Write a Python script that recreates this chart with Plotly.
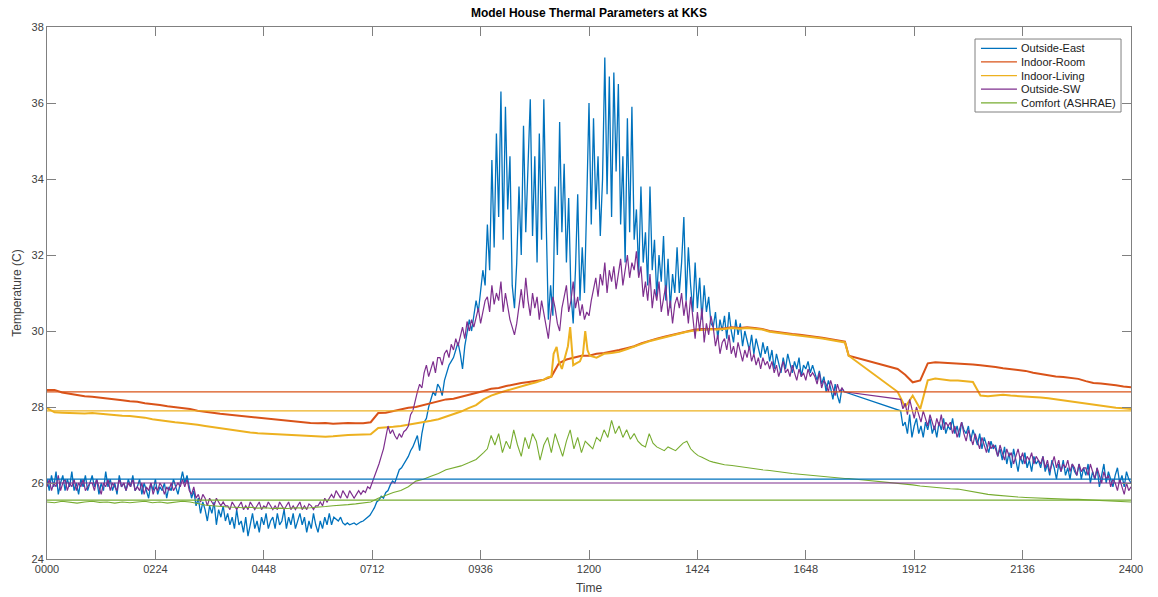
import plotly.graph_objects as go

# ---------------- data ----------------
# time in minutes after midnight (logger gap between ~17:40 and ~18:54)
t_out = list(range(0, 1062, 3)) + list(range(1134, 1441, 3))
t_room = list(range(0, 1061, 10)) + [1065] + list(range(1130, 1441, 10))
t_living = (list(range(0, 661, 10))
            + [665, 670, 673, 677, 680, 684, 688, 692, 695, 699, 703, 708, 712, 715, 718, 721]
            + list(range(730, 1061, 10)) + [1065] + list(range(1130, 1441, 10)))
t_comfort = (list(range(0, 581, 10)) + list(range(585, 901, 5))
             + list(range(910, 1061, 10)) + [1065] + list(range(1130, 1441, 10)))

tick_vals = [0, 144, 288, 432, 576, 720, 864, 1008, 1152, 1296, 1440]
tick_text = ["0000", "0224", "0448", "0712", "0936", "1200", "1424", "1648", "1912", "2136", "2400"]

outside_east = [
    26.1, 25.8, 26.2, 25.9, 26.3, 25.7, 26.0, 26.2, 25.8, 26.1, 25.9, 26.3, 25.8, 26.0, 25.7, 26.1, 25.9, 26.2, 25.8, 26.0,
    26.2, 25.9, 26.1, 25.7, 26.0, 25.8, 26.3, 25.9, 26.1, 25.8, 26.0, 25.7, 26.2, 25.9, 26.0, 25.8, 26.1, 25.9, 26.2, 25.8,
    25.9, 26.1, 25.7, 26.0, 25.8, 25.6, 26.0, 25.8, 26.1, 25.7, 25.9, 25.8, 26.0, 25.6, 25.9, 25.8, 26.1, 25.9, 25.7, 26.0,
    26.3, 26.0, 26.2, 25.9, 25.6, 25.8, 25.4, 25.6, 25.2, 25.5, 25.3, 25.0, 25.4, 25.2, 25.5, 24.9, 25.3, 25.1, 25.4, 25.0,
    25.2, 24.9, 25.1, 24.8, 25.3, 24.9, 25.0, 24.7, 25.1, 24.6, 24.9, 25.2, 24.8, 25.0, 24.7, 25.1, 24.9, 25.2, 24.8, 25.0,
    25.1, 24.8, 25.2, 24.9, 25.0, 25.3, 24.8, 25.1, 24.9, 25.2, 24.8, 25.0, 25.2, 24.9, 25.1, 24.7, 25.0, 24.8, 25.2, 24.9,
    24.7, 25.0, 24.8, 25.1, 24.9, 25.2, 24.9, 25.1, 25.05, 25.0, 25.1, 24.95, 24.9, 24.95, 24.9, 24.92, 24.95, 24.9, 24.95, 24.98,
    25.0, 25.05, 25.1, 25.15, 25.25, 25.35, 25.5, 25.55, 25.65, 25.6, 25.75, 25.8, 25.95, 26.05, 26.0, 26.2, 26.35, 26.4, 26.5, 26.6,
    26.7, 26.85, 26.95, 27.1, 27.25, 26.85, 27.3, 27.6, 27.7, 28.0, 28.2, 28.4, 28.3, 28.6, 28.5, 28.3, 28.7, 28.9, 29.1, 29.2,
    29.3, 29.5, 29.7, 29.4, 29.0, 29.6, 30.0, 30.3, 30.0, 30.4, 30.8, 30.5, 31.0, 31.6, 31.2, 32.8, 31.6, 34.5, 32.2, 35.2,
    33.0, 36.3, 32.4, 35.9, 33.2, 34.6, 31.2, 30.6, 31.8, 33.8, 32.0, 35.4, 32.6, 34.2, 36.1, 32.5, 34.6, 31.8, 35.2, 32.4,
    36.1, 33.0, 30.3, 31.2, 30.4, 33.8, 32.0, 35.5, 32.6, 34.4, 31.8, 33.5, 31.0, 30.2, 31.6, 33.6, 30.8, 32.2, 31.0, 33.4,
    36.0, 32.8, 35.6, 33.2, 34.6, 32.5, 34.0, 37.2, 33.6, 36.7, 33.0, 36.8, 34.2, 36.5, 32.8, 34.6, 31.8, 35.6, 32.6, 35.9,
    32.4, 33.2, 31.5, 33.8, 31.8, 32.6, 31.2, 33.8, 31.6, 32.4, 30.9, 32.0, 31.3, 32.5, 30.8, 31.9, 30.6, 31.5, 31.0, 32.2,
    31.0, 31.8, 33.0, 30.8, 32.2, 31.2, 30.5, 31.8, 30.6, 31.4, 30.3, 31.2, 30.5, 30.9, 30.2, 30.1, 30.5, 29.8, 30.3, 30.0,
    30.4, 29.8, 30.5, 30.0, 29.7, 30.3, 29.9, 30.2, 29.6, 30.0, 29.7, 29.5, 29.9, 29.4, 29.8, 29.5, 29.3, 29.7, 29.4, 29.6,
    29.2, 29.5, 29.0, 29.4, 29.1, 28.9, 29.3, 29.0, 29.4, 29.1, 28.9, 29.2, 29.0, 29.3, 28.8, 29.1, 29.0, 29.2, 28.9, 29.1,
    28.9, 28.7, 28.95, 28.6, 28.8, 28.4, 28.7, 28.5, 28.2, 28.6, 28.3, 28.1, 28.5, 28.4,
    27.9, 27.5,
    27.6, 27.3, 27.8, 27.2, 27.5, 27.7, 27.3, 27.5, 27.2, 27.6, 27.4, 27.7, 27.3, 27.5, 27.2, 27.6, 27.4, 27.7, 27.3, 27.5,
    27.4, 27.7, 27.3, 27.5, 27.2, 27.6, 27.4, 27.3, 27.5, 27.1, 27.4, 27.2, 27.0, 27.3, 26.9, 27.2, 27.0, 26.8, 27.1, 26.9,
    27.0, 26.7, 26.9, 26.6, 26.95, 26.5, 26.8, 26.4, 26.9, 26.6, 26.3, 26.7, 26.5, 26.8, 26.4, 26.6, 26.3, 26.7, 26.5, 26.6,
    26.4, 26.7, 26.3, 26.5, 26.2, 26.6, 26.4, 26.1, 26.5, 26.3, 26.6, 26.2, 26.4, 26.1, 26.5, 26.3, 26.2, 26.5, 26.1, 26.4,
    26.2, 26.5, 26.0, 26.3, 26.1, 26.4, 25.9, 26.2, 26.5, 26.0, 26.3, 26.1, 25.9, 26.2, 26.4, 26.0, 26.2, 25.9, 26.3, 26.1,
    26.0,
]

outside_sw = [
    25.9, 26.1, 25.8, 26.0, 25.9, 26.2, 25.8, 26.0, 26.1, 25.8, 26.0, 25.9, 26.1, 25.8, 26.0, 25.9, 26.1, 25.8, 25.9, 26.0,
    26.0, 25.8, 26.1, 25.9, 25.7, 26.0, 25.9, 26.1, 25.8, 26.0, 25.9, 25.8, 26.1, 25.9, 26.0, 25.8, 26.0, 25.9, 26.1, 25.8,
    25.9, 25.8, 26.0, 25.7, 25.9, 25.8, 26.0, 25.7, 25.9, 25.8, 26.0, 25.9, 25.7, 25.9, 25.8, 26.0, 25.8, 25.9, 26.0, 25.9,
    26.1, 25.9, 26.1, 25.8, 25.7, 25.9, 25.6, 25.7, 25.5, 25.7, 25.6, 25.4, 25.6, 25.5, 25.4, 25.6, 25.5, 25.4, 25.5, 25.4,
    25.4, 25.3, 25.5, 25.4, 25.3, 25.4, 25.5, 25.3, 25.4, 25.3, 25.5, 25.4, 25.3, 25.4, 25.5, 25.3, 25.4, 25.35, 25.5, 25.4,
    25.3, 25.4, 25.3, 25.5, 25.4, 25.3, 25.4, 25.5, 25.3, 25.4, 25.3, 25.4, 25.5, 25.3, 25.4, 25.3, 25.45, 25.4, 25.3, 25.4,
    25.4, 25.5, 25.4, 25.6, 25.5, 25.6, 25.7, 25.6, 25.8, 25.7, 25.6, 25.8, 25.7, 25.6, 25.8, 25.7, 25.6, 25.7, 25.8, 25.7,
    25.8, 25.75, 25.9, 25.85, 26.0, 26.2, 26.3, 26.5, 26.7, 26.9, 27.2, 27.5, 27.3, 27.4, 27.25, 27.15, 27.3, 27.2, 27.35, 27.4,
    27.5, 27.8, 27.9, 28.2, 28.4, 28.6, 28.5, 28.9, 29.1, 28.8, 29.0, 29.2, 28.9, 29.3, 29.3, 29.1, 29.4, 29.5, 29.3, 29.65,
    29.5, 29.8, 29.6, 29.9, 30.1, 29.8, 30.25, 30.0, 30.3, 30.1, 30.4, 30.6, 30.2, 30.5, 30.8, 30.9, 30.5, 31.2, 30.7, 31.0,
    30.8, 31.3, 30.5, 31.0, 30.6, 30.3, 30.1, 29.9, 30.2, 30.7, 31.1, 30.6, 31.4, 30.8, 30.4, 31.0, 30.6, 30.9, 30.3, 30.8,
    30.5, 30.1, 29.8, 30.4, 30.9, 30.6, 30.2, 30.0, 30.6, 30.9, 31.2, 30.5, 30.8, 31.3, 30.6, 30.9, 30.4, 30.7, 30.3, 30.5,
    30.4, 30.8, 31.1, 31.4, 30.9, 31.5, 31.2, 31.8, 31.0, 31.6, 31.3, 31.7, 31.1, 31.5, 31.9, 31.2, 31.6, 32.0, 31.4, 31.8,
    31.6, 32.1, 31.4, 31.7, 30.9, 31.3, 30.8, 31.5, 30.6, 31.1, 30.8, 31.3, 30.5, 30.9, 31.2, 30.4, 30.8, 30.2, 30.7, 30.9,
    30.6, 31.0, 30.4, 30.8, 30.2, 30.9, 30.3, 29.8, 30.5, 30.0, 30.6, 29.7, 30.2, 29.9, 30.4, 30.1, 29.6, 29.9, 29.4, 29.7,
    29.8, 29.5, 29.9, 29.4, 29.6, 29.3, 29.7, 29.4, 29.2, 29.5, 29.3, 29.6, 29.2, 29.4, 29.1, 29.3, 29.0, 29.3, 29.1, 29.2,
    29.0, 29.2, 28.9, 29.1, 28.8, 29.0, 29.2, 28.9, 29.0, 28.8, 29.1, 28.9, 28.7, 29.0, 28.8, 28.9, 28.7, 29.0, 28.8, 28.9,
    28.8, 28.6, 28.9, 28.5, 28.7, 28.6, 28.4, 28.7, 28.5, 28.3, 28.6, 28.4, 28.5, 28.4,
    28.2, 27.95,
    28.1, 27.8, 28.2, 27.9, 27.7, 28.0, 27.8, 27.6, 27.9, 27.7, 27.5, 27.8, 27.6, 27.4, 27.7, 27.5, 27.8, 27.4, 27.6, 27.5,
    27.6, 27.3, 27.5, 27.2, 27.4, 27.6, 27.3, 27.1, 27.4, 27.2, 27.0, 27.3, 27.1, 26.9, 27.2, 27.0, 26.8, 27.1, 26.9, 27.0,
    26.9, 26.7, 27.0, 26.8, 26.6, 26.9, 26.7, 26.8, 26.5, 26.7, 26.9, 26.6, 26.8, 26.5, 26.7, 26.6, 26.8, 26.5, 26.7, 26.6,
    26.5, 26.7, 26.4, 26.6, 26.3, 26.5, 26.7, 26.4, 26.6, 26.3, 26.5, 26.4, 26.6, 26.3, 26.5, 26.4, 26.2, 26.5, 26.3, 26.4,
    26.4, 26.2, 26.5, 26.3, 26.1, 26.4, 26.2, 26.0, 26.3, 26.1, 26.2, 25.9, 26.1, 26.0, 25.8, 26.1, 25.9, 25.7, 26.0, 25.8,
    25.9,
]

indoor_room = [
    28.45, 28.45, 28.38, 28.35, 28.3, 28.28,
    28.27, 28.25, 28.22, 28.2, 28.18, 28.15,
    28.14, 28.1, 28.08, 28.05, 28.02, 28.0,
    27.97, 27.95, 27.9, 27.88, 27.85, 27.82,
    27.8, 27.77, 27.75, 27.73, 27.72, 27.7,
    27.68, 27.66, 27.64, 27.62, 27.6, 27.58,
    27.57, 27.58, 27.56, 27.57, 27.58, 27.57,
    27.57, 27.6, 27.84, 27.85, 27.9, 27.95,
    27.98, 28.0, 28.05, 28.1, 28.15, 28.2,
    28.22, 28.27, 28.3, 28.37, 28.42, 28.48,
    28.5, 28.55, 28.6, 28.63, 28.66, 28.7,
    28.72, 28.8, 29.15, 29.25, 29.3, 29.35,
    29.35, 29.4, 29.42, 29.45, 29.5, 29.55,
    29.6, 29.68, 29.75, 29.8, 29.85, 29.9,
    29.95, 30.0, 30.03, 30.05, 30.05, 30.05,
    30.07, 30.1, 30.08, 30.1, 30.08, 30.05,
    30.0, 29.97, 29.95, 29.92, 29.9, 29.88,
    29.85, 29.82, 29.78, 29.75, 29.72,
    29.35,
    29.0, 28.85, 28.65, 28.7, 29.15, 29.18, 29.17, 29.15, 29.15, 29.13,
    29.12, 29.1, 29.08, 29.05, 29.02, 29.0, 28.98, 28.95, 28.9, 28.86,
    28.83, 28.8, 28.79, 28.77, 28.74, 28.68, 28.63, 28.62, 28.6, 28.57,
    28.54, 28.52,
]

indoor_living = [
    27.97, 27.86, 27.85, 27.84, 27.84, 27.83,
    27.84, 27.82, 27.8, 27.79, 27.77, 27.76,
    27.74, 27.72, 27.68, 27.65, 27.62, 27.6,
    27.58, 27.56, 27.53, 27.5, 27.47, 27.43,
    27.4, 27.38, 27.35, 27.33, 27.31, 27.3,
    27.29, 27.28, 27.27, 27.26, 27.25, 27.23,
    27.22, 27.22, 27.23, 27.25, 27.26, 27.27,
    27.27, 27.28, 27.45, 27.46, 27.48, 27.5,
    27.53, 27.57, 27.6, 27.64, 27.68, 27.75,
    27.8, 27.88, 27.97, 28.05, 28.2, 28.3,
    28.37, 28.43, 28.5, 28.55, 28.6, 28.65,
    28.72,
    28.78, 28.8, 29.4, 29.58, 29.2, 29.0, 29.3, 29.6, 30.1, 29.1, 29.15, 29.2, 29.4, 30.0, 29.5, 29.35,
    29.3, 29.4, 29.42, 29.45, 29.52,
    29.58, 29.66, 29.73, 29.78, 29.84, 29.88,
    29.93, 29.98, 30.01, 30.03, 30.04, 30.04,
    30.05, 30.08, 30.06, 30.08, 30.06, 30.04,
    29.98, 29.96, 29.93, 29.9, 29.88, 29.86,
    29.83, 29.8, 29.76, 29.73, 29.7,
    29.35,
    28.4, 28.0, 28.3, 27.95, 28.7, 28.75, 28.72, 28.7, 28.7, 28.68,
    28.66, 28.3, 28.28, 28.3, 28.32, 28.3, 28.29, 28.28, 28.27, 28.25,
    28.23, 28.2, 28.18, 28.15, 28.12, 28.08, 28.05, 28.03, 28.0, 27.98,
    27.97, 27.95,
]

comfort_ashrae = [
    25.5, 25.48, 25.52, 25.5, 25.47, 25.5,
    25.52, 25.49, 25.5, 25.47, 25.5, 25.48,
    25.5, 25.52, 25.48, 25.5, 25.47, 25.5,
    25.52, 25.5, 25.45, 25.42, 25.4, 25.38,
    25.37, 25.36, 25.35, 25.36, 25.34, 25.35,
    25.33, 25.34, 25.33, 25.35, 25.34, 25.35,
    25.36, 25.38, 25.4, 25.41, 25.43, 25.45,
    25.47, 25.5, 25.6, 25.68, 25.75, 25.8,
    25.9, 26.05, 26.1, 26.18, 26.25, 26.35,
    26.4, 26.45, 26.53, 26.62, 26.8,
    26.9, 27.25, 27.0, 27.3, 26.8, 27.1, 26.9, 27.4, 27.0, 26.7, 27.2, 26.9, 27.3, 27.1, 26.6, 27.0,
    27.2, 26.8, 27.3, 27.0, 26.7, 27.1, 27.4, 26.9, 27.2, 26.8, 27.1, 27.0, 26.9, 27.2, 27.1, 27.4,
    27.2, 27.65, 27.3, 27.5, 27.2, 27.4, 27.15, 27.3, 27.1, 27.0, 26.95, 27.3, 27.05, 26.95, 26.9, 26.85,
    26.95, 26.9, 26.85, 26.95, 27.05, 27.1, 26.9, 26.8, 26.72, 26.68, 26.62, 26.58, 26.55, 26.52, 26.5, 26.48,
    26.46, 26.43, 26.4, 26.38, 26.35, 26.33, 26.3, 26.28, 26.25, 26.23, 26.21, 26.2, 26.18, 26.16, 26.14, 26.12,
    26.12,
    26.0, 25.98, 25.95, 25.92, 25.9, 25.88, 25.86, 25.85, 25.84, 25.8,
    25.76, 25.73, 25.7, 25.68, 25.66, 25.64, 25.63, 25.62, 25.61, 25.6,
    25.6, 25.59, 25.58, 25.57, 25.57, 25.56, 25.55, 25.54, 25.53, 25.52,
    25.52, 25.5,
]

series_names = ["Outside-East", "Indoor-Room", "Indoor-Living", "Outside-SW", "Comfort (ASHRAE)"]
mean_levels = [26.1, 28.4, 27.9, 26.0, 25.55]

# ---------------- styling ----------------
colors = ["#0072BD", "#D95319", "#EDB120", "#7E2F8E", "#77AC30"]
widths = [1.3, 2.0, 2.0, 1.2, 1.1]
series_t = [t_out, t_room, t_living, t_out, t_comfort]
series_y = [outside_east, indoor_room, indoor_living, outside_sw, comfort_ashrae]

fig = go.Figure()
for name, tt, yy, c, w in zip(series_names, series_t, series_y, colors, widths):
    fig.add_trace(go.Scatter(x=tt, y=yy, mode="lines", name=name,
                             line=dict(color=c, width=w)))
for lvl, c, name in zip(mean_levels, colors, series_names):
    fig.add_trace(go.Scatter(x=[tick_vals[0], tick_vals[-1]], y=[lvl, lvl], mode="lines",
                             line=dict(color=c, width=1.2), showlegend=False,
                             name=name + " mean"))

axis_col = "#808080"
txt_col = "#404040"
font_family = "Liberation Sans, Arial, sans-serif"

# MATLAB-style compact legend box (paper coordinates)
shapes = [dict(type="rect", xref="paper", yref="paper", x0=0.8561, x1=0.9908, y0=0.8402, y1=0.9774,
               line=dict(color="#808080", width=1), fillcolor="white", layer="above")]
annotations = []
row_y0 = 0.9599
row_step = 0.0256
for i, (name, c) in enumerate(zip(series_names, colors)):
    yy = row_y0 - i * row_step
    shapes.append(dict(type="line", xref="paper", yref="paper", x0=0.8616, x1=0.8948, y0=yy, y1=yy,
                       line=dict(color=c, width=1.2), layer="above"))
    annotations.append(dict(text=name, xref="paper", yref="paper", x=0.8967, y=yy,
                            xanchor="left", yanchor="middle", showarrow=False,
                            font=dict(size=11, color="#202020", family=font_family)))

fig.update_layout(
    width=1158, height=597,
    margin=dict(l=47, r=27, t=27, b=38),
    paper_bgcolor="white", plot_bgcolor="white",
    font=dict(family=font_family, size=11, color=txt_col),
    title=dict(text="<b>Model House Thermal Parameters at KKS</b>",
               x=0.5086, xanchor="center", y=0.979, yanchor="middle", yref="container",
               font=dict(size=12, color="#000000", family=font_family)),
    showlegend=False,
    shapes=shapes,
    annotations=annotations,
)
fig.update_xaxes(range=[0, 1440], tickvals=tick_vals, ticktext=tick_text,
                 ticks="inside", ticklen=9, tickcolor=axis_col, tickwidth=1,
                 showline=True, linecolor=axis_col, linewidth=1, mirror="ticks",
                 showgrid=False, zeroline=False, automargin=False,
                 tickfont=dict(size=11, color=txt_col),
                 title=dict(text="Time", standoff=9, font=dict(size=12, color=txt_col)))
fig.update_yaxes(range=[24, 38], dtick=2, tick0=24,
                 ticks="inside", ticklen=9, tickcolor=axis_col, tickwidth=1,
                 showline=True, linecolor=axis_col, linewidth=1, mirror="ticks",
                 showgrid=False, zeroline=False, automargin=False,
                 tickfont=dict(size=11, color=txt_col),
                 title=dict(text="Temperature (C)", standoff=7, font=dict(size=12, color=txt_col)))

fig.write_html("out.html")
